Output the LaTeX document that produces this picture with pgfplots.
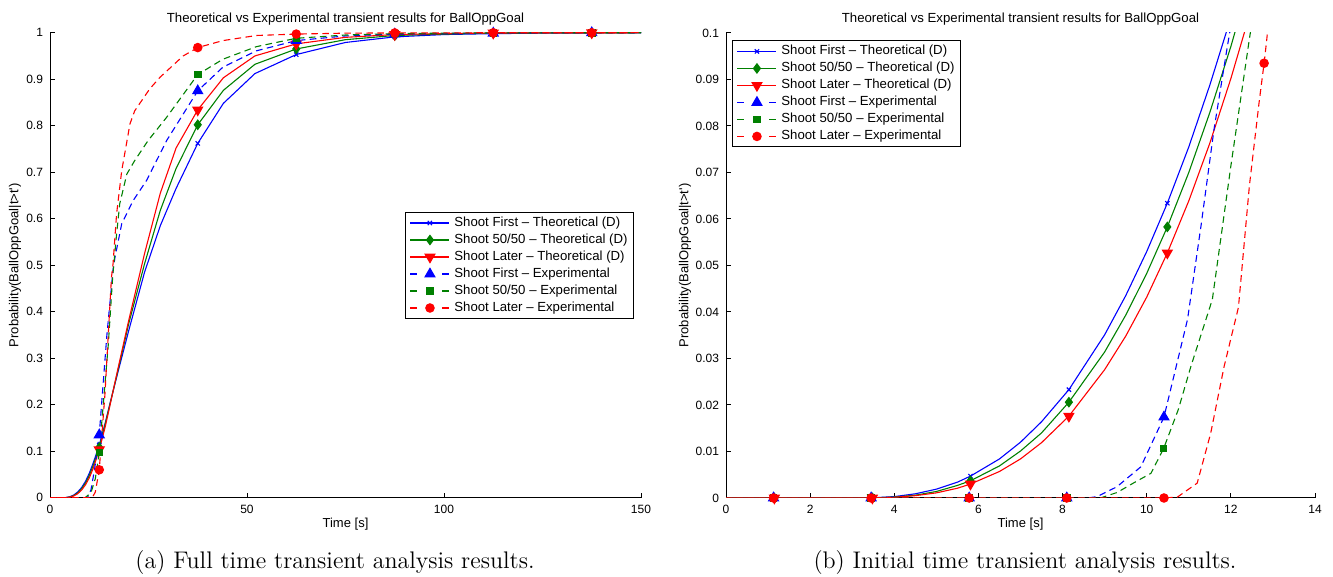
\documentclass[border=0pt]{standalone}
\usepackage{fontspec}
\usepackage{pgfplots}
\pgfplotsset{compat=1.18}
\newfontfamily\plotfont{Liberation Sans}
\definecolor{mblue}{rgb}{0,0,1}
\definecolor{mgreen}{rgb}{0,0.5,0}
\definecolor{mred}{rgb}{1,0,0}
\pgfplotsset{
  mystyle/.style={
    scale only axis, height=232.5pt,
    axis lines*=left, axis line style={-, black, line width=0.5pt},
    tick align=inside, major tick length=2.5pt, tick style={black, line width=0.5pt},
    every tick label/.append style={font=\plotfont\fontsize{6}{7}\selectfont},
    label style={font=\plotfont\fontsize{6.5}{7.5}\selectfont},
    every axis title shift=0pt,
    title style={font=\plotfont\fontsize{6.6}{7.5}\selectfont, at={(0.5,1)}, anchor=south, inner sep=0pt, yshift=3.5pt},
    xlabel style={at={(axis description cs:0.5,-0.056)}, anchor=center},
    enlargelimits=false,
    legend cell align=left,
    legend style={draw=black, line width=0.5pt, fill=white, anchor=north west,
      font=\plotfont\fontsize{6.6}{7}\selectfont, inner xsep=2.2pt, inner ysep=1pt, row sep=0pt, column sep=1.2pt,
      nodes={inner sep=1pt, text height=4.9pt, text depth=1.6pt}},
  },
  theo/.style={line width=0.55pt, solid,
    legend image code/.code={\draw[##1,mark indices={2}] plot coordinates {(0pt,0pt) (9.75pt,0pt) (19.5pt,0pt)};}},
  expe/.style={line width=0.55pt, dash pattern=on 3.3pt off 2.2pt,
    legend image code/.code={\draw[##1,mark=none,dash pattern=on 3.5pt off 12.5pt] (0pt,0pt) -- (19.5pt,0pt); \draw[##1,solid,mark indices={1}] plot coordinates {(9.75pt,0pt)};}},
  mkbt/.style={color=mblue, mark=x, mark size=1.5pt, mark options={solid}},
  mkgt/.style={color=mgreen, mark=diamond*, mark size=2.3pt, mark options={solid, fill=mgreen}},
  mkrt/.style={color=mred, mark=triangle*, mark size=2.8pt, mark options={solid, fill=mred, rotate=180}},
  mkbe/.style={color=mblue, mark=triangle*, mark size=2.8pt, mark options={solid, fill=mblue}},
  mkge/.style={color=mgreen, mark=square*, mark size=1.6pt, mark options={solid, fill=mgreen}},
  mkre/.style={color=mred, mark=*, mark size=2.1pt, mark options={solid, fill=mred}},
}
\begin{document}
\begin{tikzpicture}
\useasboundingbox (0,0) rectangle (666.5pt,288.5pt);
% ---------------- left axis ----------------
\begin{axis}[mystyle, width=295.5pt, at={(25pt,39.65pt)}, anchor=south west,
  xmin=0, xmax=150, ymin=0, ymax=1,
  xtick={0,50,100,150}, xticklabels={0,50,100,150},
  ytick={0,0.1,0.2,0.3,0.4,0.5,0.6,0.7,0.8,0.9,1},
  yticklabels={0,0.1,0.2,0.3,0.4,0.5,0.6,0.7,0.8,0.9,1},
  title={Theoretical vs Experimental transient results for BallOppGoal},
  xlabel={Time [s]},
  ylabel={Probability(BallOppGoal|t>t\textquotesingle)},
  ylabel style={at={(axis description cs:-0.059,0.5)}, anchor=center},
  legend style={at={(axis description cs:0.6007,0.6144)}},
]
\addplot[theo, mkbt, mark indices={12,20,23,25,27,29}] coordinates {
(0,0) (3,0) (4,0.0003) (5,0.0019) (6,0.0056) (7,0.012) (8,0.0216) (9,0.035) (10,0.053) (11,0.0755)
(12,0.100) (12.5,0.113) (14,0.16) (15,0.195) (17,0.262) (20,0.36) (24,0.485) (28,0.585) (32,0.665)
(37.5,0.762) (44,0.848) (52,0.912) (62.5,0.953) (75,0.979) (87.5,0.991) (100,0.996) (112.5,0.998)
(125,0.999) (137.5,0.9995) (150,0.9998)};
\addlegendentry{Shoot First – Theoretical (D)}
\addplot[theo, mkgt, mark indices={12,20,23,25,27,29}] coordinates {
(0,0) (3,0) (4,0.0002) (5,0.0014) (6,0.0045) (7,0.0101) (8,0.0189) (9,0.0314) (10,0.0483) (11,0.07)
(12,0.097) (12.5,0.108) (14,0.158) (15,0.193) (17,0.265) (20,0.375) (24,0.503) (28,0.618) (32,0.708)
(37.5,0.802) (44,0.876) (52,0.932) (62.5,0.965) (75,0.985) (87.5,0.994) (100,0.997) (112.5,0.999)
(125,0.9995) (137.5,0.9997) (150,0.9999)};
\addlegendentry{Shoot 50/50 – Theoretical (D)}
\addplot[theo, mkrt, mark indices={12,20,23,25,27,29}] coordinates {
(0,0) (3,0) (4,0.00015) (5,0.0011) (6,0.0036) (7,0.0084) (8,0.0162) (9,0.0276) (10,0.0432) (11,0.064)
(12,0.09) (12.5,0.103) (14,0.152) (15,0.19) (17,0.268) (20,0.382) (24,0.525) (28,0.655) (32,0.752)
(37.5,0.834) (44,0.903) (52,0.950) (62.5,0.976) (75,0.990) (87.5,0.996) (100,0.998) (112.5,0.9993)
(125,0.9997) (137.5,0.9999) (150,1)};
\addlegendentry{Shoot Later – Theoretical (D)}
\addplot[expe, mkbe, mark indices={5,13,16,18,20,22}] coordinates {
(0,0) (9.5,0) (10.4,0.017) (11.3,0.06) (12.5,0.135) (14.4,0.346) (16.0,0.49) (16.5,0.517) (18.2,0.589)
(21.1,0.639) (24.5,0.682) (29.6,0.768) (37.5,0.875) (43.9,0.926) (52.4,0.961) (62.5,0.983) (75,0.993)
(87.5,0.997) (100,0.998) (112.5,0.999) (125,0.9995) (137.5,0.9998) (150,1)};
\addlegendentry{Shoot First – Experimental}
\addplot[expe, mkge, mark indices={5,14,17,19,21,23}] coordinates {
(0,0) (8.9,0) (10.4,0.0106) (11.5,0.041) (12.5,0.097) (14.8,0.33) (15.9,0.474) (16.9,0.567) (17.7,0.632)
(19.5,0.696) (21.5,0.725) (24.9,0.768) (29.6,0.818) (37.5,0.91) (43.9,0.943) (52.4,0.97) (62.5,0.988)
(75,0.995) (87.5,0.998) (100,0.999) (112.5,0.9995) (125,0.9997) (137.5,0.9998) (150,1)};
\addlegendentry{Shoot 50/50 – Experimental}
\addplot[expe, mkre, mark indices={4,15,18,20,22,24}] coordinates {
(0,0) (10.7,0) (11.5,0.012) (12.5,0.06) (13.95,0.223) (15.6,0.474) (16.0,0.503) (16.9,0.61) (18.2,0.703)
(20.3,0.804) (21.5,0.832) (25.3,0.879) (27.9,0.904) (33.8,0.95) (37.5,0.968) (43.9,0.983) (52.4,0.994)
(62.5,0.997) (75,0.999) (87.5,0.9995) (100,0.9997) (112.5,0.9998) (125,0.9999) (137.5,0.9999) (150,1)};
\addlegendentry{Shoot Later – Experimental}
\end{axis}
% ---------------- right axis ----------------
\begin{axis}[mystyle, width=294.5pt, at={(363pt,39.5pt)}, anchor=south west,
  xmin=0, xmax=14, ymin=0, ymax=0.1,
  xtick={0,2,4,6,8,10,12,14}, xticklabels={0,2,4,6,8,10,12,14},
  ytick={0,0.01,0.02,0.03,0.04,0.05,0.06,0.07,0.08,0.09,0.1},
  yticklabels={0,0.01,0.02,0.03,0.04,0.05,0.06,0.07,0.08,0.09,0.1},
  title={Theoretical vs Experimental transient results for BallOppGoal},
  xlabel={Time [s]},
  ylabel={Probability(BallOppGoal|t>t\textquotesingle)},
  ylabel style={at={(axis description cs:-0.0696,0.5)}, anchor=center},
  legend style={at={(axis description cs:0.0102,0.984)}},
]
\addplot[theo, mkbt, mark indices={2,4,9,13,17}] coordinates {
(0,0) (1.15,0) (3,0) (3.48,0.00004) (4,0.0003) (4.5,0.0009) (5,0.0019) (5.5,0.0034) (5.81,0.0047)
(6.5,0.0084) (7,0.012) (7.5,0.0164) (8.15,0.0233) (9,0.0351) (9.5,0.0435) (10,0.053) (10.49,0.0634)
(11,0.0755) (11.5,0.0888) (12,0.1033) (12.5,0.1193)};
\addlegendentry{Shoot First – Theoretical (D)}
\addplot[theo, mkgt, mark indices={2,4,9,13,17}] coordinates {
(0,0) (1.15,0) (3,0) (3.48,0.00002) (4,0.0002) (4.5,0.0006) (5,0.0014) (5.5,0.0027) (5.81,0.0037)
(6.5,0.0069) (7,0.0101) (7.5,0.014) (8.15,0.0206) (9,0.0314) (9.5,0.0393) (10,0.0483) (10.49,0.0583)
(11,0.07) (11.5,0.0829) (12,0.0971) (12.5,0.1129)};
\addlegendentry{Shoot 50/50 – Theoretical (D)}
\addplot[theo, mkrt, mark indices={2,4,9,13,17}] coordinates {
(0,0) (1.15,0) (3,0) (3.48,0.00002) (4,0.00015) (4.5,0.0005) (5,0.0011) (5.5,0.0021) (5.81,0.003)
(6.5,0.0057) (7,0.0084) (7.5,0.0119) (8.15,0.0176) (9,0.0276) (9.5,0.0348) (10,0.0432) (10.49,0.0527)
(11,0.0639) (11.5,0.0763) (12,0.0902) (12.5,0.1056)};
\addlegendentry{Shoot Later – Theoretical (D)}
\addplot[expe, mkbe, mark indices={2,3,4,5,10}] coordinates {
(0,0) (1.13,0) (3.45,0) (5.78,0) (8.1,0) (8.6,0) (8.82,0.0003) (9.29,0.0024) (9.86,0.0067) (10.41,0.0174)
(10.97,0.0384) (11.29,0.0585) (11.6,0.0793) (11.92,0.0973) (12.2,0.112)};
\addlegendentry{Shoot First – Experimental}
\addplot[expe, mkge, mark indices={2,3,4,5,10}] coordinates {
(0,0) (1.13,0) (3.45,0) (5.78,0) (8.1,0) (8.9,0) (9.3,0.0012) (9.7,0.0033) (10.1,0.0053) (10.4,0.0106)
(10.75,0.019) (11.05,0.0283) (11.56,0.0427) (12.0,0.0714) (12.44,0.0987) (12.6,0.108)};
\addlegendentry{Shoot 50/50 – Experimental}
\addplot[expe, mkre, mark indices={2,3,4,5,6,14}] coordinates {
(0,0) (1.13,0) (3.45,0) (5.78,0) (8.1,0) (10.41,0) (10.73,0.0002) (11.2,0.0032) (11.52,0.0139) (11.84,0.0283)
(12.18,0.041) (12.44,0.0671) (12.67,0.085) (12.79,0.0935) (12.85,0.0983) (12.9,0.103)};
\addlegendentry{Shoot Later – Experimental}
\end{axis}
\node[font=\fontsize{12}{14}\selectfont] at (167.5pt,7pt) {(a) Full time transient analysis results.};
\node[font=\fontsize{12}{14}\selectfont] at (512.5pt,7pt) {(b) Initial time transient analysis results.};
\end{tikzpicture}
\end{document}
